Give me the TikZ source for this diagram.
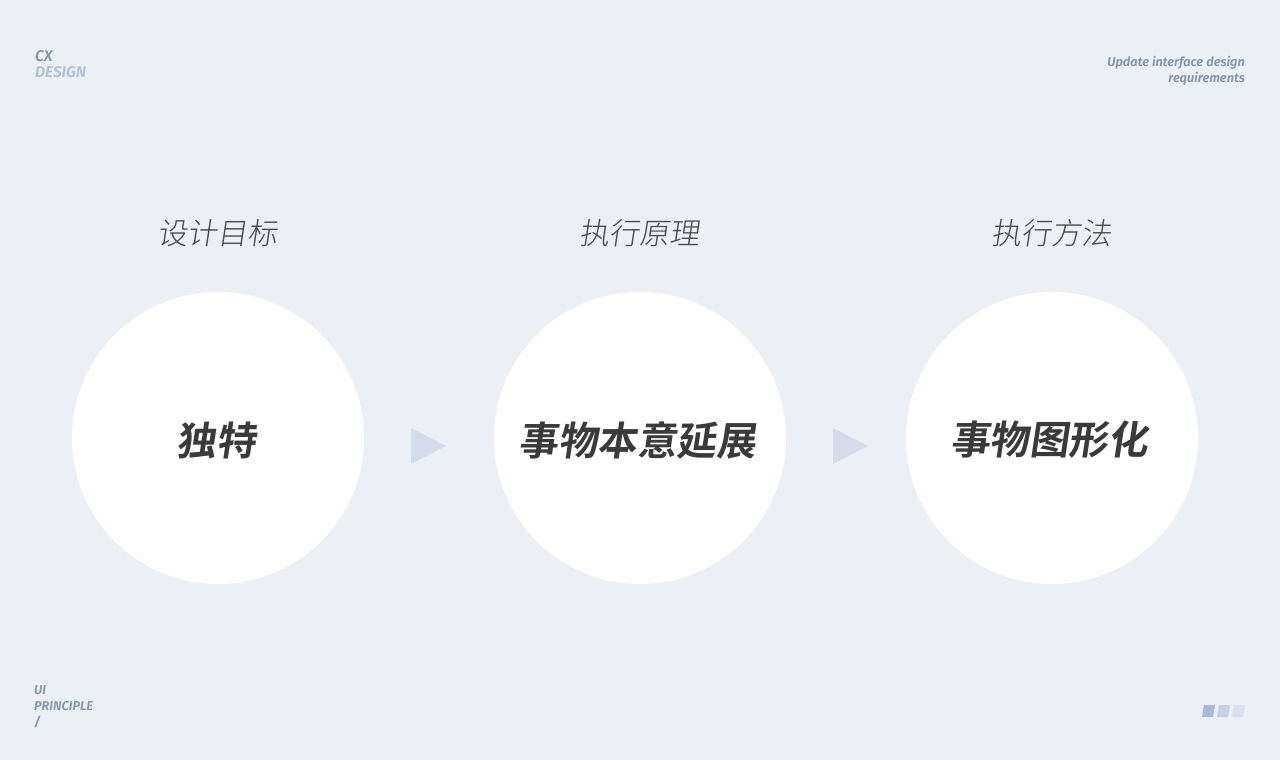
\documentclass[tikz,border=0pt]{standalone}
\usepackage{fontspec}
\setsansfont{Fira Sans}
\newfontfamily\cjkhead[FakeSlant=0.15]{Noto Sans CJK SC Light}
\newfontfamily\cjkbold[FakeSlant=0.15]{Noto Sans CJK SC Bold}
\newfontfamily\latsmall{Fira Sans SemiBold Italic}
\definecolor{bg}{HTML}{EBF0F7}
\definecolor{tri}{HTML}{D3DCEB}
\definecolor{dark}{HTML}{3A3A3A}
\definecolor{head}{HTML}{4A4A4A}
\definecolor{smallA}{HTML}{8494AE}
\definecolor{smallB}{HTML}{B2BED2}
\definecolor{sqA}{HTML}{A9B9D8}
\definecolor{sqB}{HTML}{C6D1E4}
\definecolor{sqC}{HTML}{D9E1EE}
\tikzset{
  disc/.style={circle, fill=white, minimum size=292pt, inner sep=0pt},
  headtxt/.style={text=head, font=\cjkhead\fontsize{30}{30}\selectfont},
  maintxt/.style={text=dark, font=\cjkbold\fontsize{39.5}{39.5}\selectfont},
  arrowtri/.style={fill=tri},
  smalltxt/.style={font=\latsmall\fontsize{12.8}{16}\selectfont, inner sep=0pt},
  bigsmall/.style={font=\latsmall\fontsize{15.5}{16}\selectfont, inner sep=0pt},
}
\begin{document}
\begin{tikzpicture}[x=1pt,y=-1pt]
\fill[bg] (0,0) rectangle (1280,760);
\useasboundingbox (0,0) rectangle (1280,760);
% circles
\node[disc] (c1) at (218,438) {};
\node[disc] (c2) at (640,438) {};
\node[disc] (c3) at (1052,438) {};
\node[maintxt] (t1) at (216,440) {独特};
\node[maintxt] (t2) at (637,440) {事物本意延展};
\node[maintxt] (t3) at (1049,440) {事物图形化};
% headings
\node[headtxt] (h1) at (217,233) {设计目标};
\node[headtxt] (h2) at (639,233) {执行原理};
\node[headtxt] (h3) at (1051,233) {执行方法};
% triangles
\fill[arrowtri] (411,428) -- (446,446) -- (411,464) -- cycle;
\fill[arrowtri] (833,428) -- (868,446) -- (833,464) -- cycle;
% corner texts
\node[bigsmall, anchor=west, text=smallA] (cx) at (35,56) {CX};
\node[bigsmall, anchor=west, text=smallB] (ds) at (35,72) {DESIGN};
\node[smalltxt, anchor=east, text=smallA, align=right] (up) at (1245,71) {Update interface design\\requirements};
\node[smalltxt, anchor=west, text=smallA, align=left] (ui) at (34,707) {UI\\PRINCIPLE\\/};
% bottom right marks
\fill[sqA] (1204,705) -- (1215,705) -- (1213,717) -- (1202,717) -- cycle;
\fill[sqB] (1219,705) -- (1230,705) -- (1228,717) -- (1217,717) -- cycle;
\fill[sqC] (1234,705) -- (1245,705) -- (1243,717) -- (1232,717) -- cycle;
\end{tikzpicture}
\end{document}
